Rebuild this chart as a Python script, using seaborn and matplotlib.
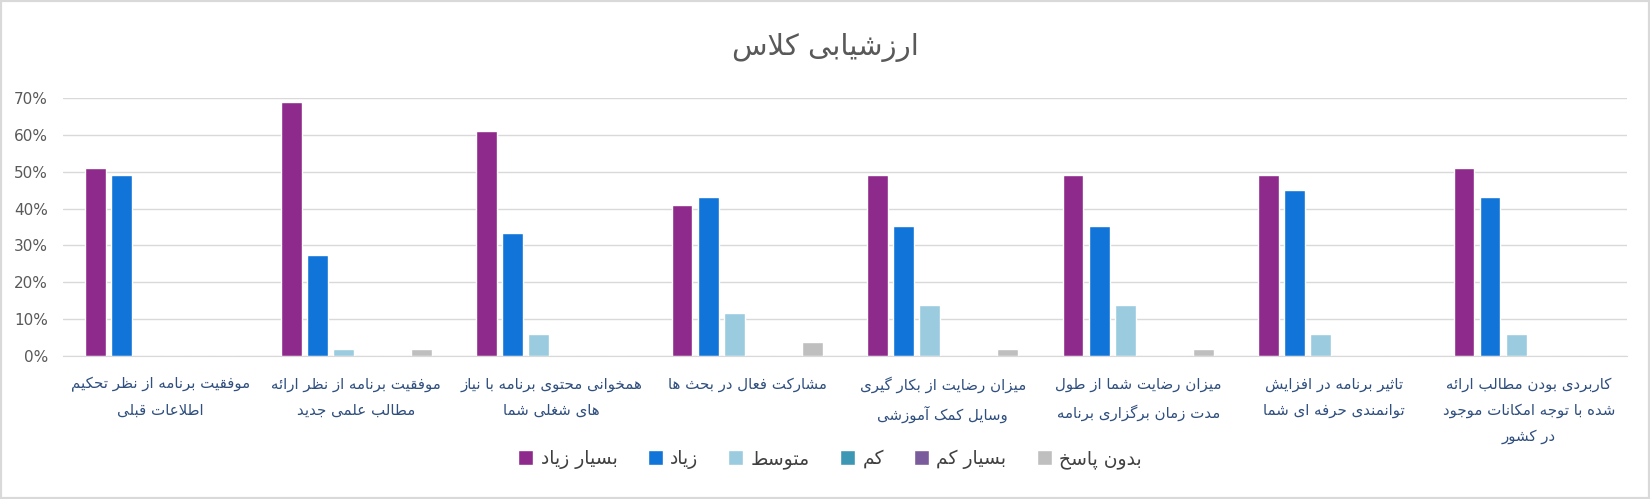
import pandas as pd
import numpy as np
import seaborn as sns
import matplotlib.pyplot as plt
from matplotlib.patches import Rectangle

# data, left to right as it appears in the chart
categories = ['موفقیت برنامه از نظر تحکیم\nاطلاعات قبلی',
              'موفقیت برنامه از نظر ارائه\nمطالب علمی جدید',
              'همخوانی محتوی برنامه با نیاز\nهای شغلی شما',
              'مشارکت فعال در بحث ها',
              'میزان رضایت از بکار گیری\nوسایل کمک آموزشی',
              'میزان رضایت شما از طول\nمدت زمان برگزاری برنامه',
              'تاثیر برنامه در افزایش\nتوانمندی حرفه ای شما',
              'کاربردی بودن مطالب ارائه\nشده با توجه امکانات موجود\nدر کشور']
series = ['بسیار زیاد', 'زیاد', 'متوسط', 'کم', 'بسیار کم', 'بدون پاسخ']
very_high = [51, 69, 61, 41, 49, 49, 49, 51]
high = [49, 27.5, 33.4, 43.2, 35.3, 35.3, 45.1, 43.2]
medium = [0, 2, 6, 11.7, 13.7, 13.7, 6, 6]
low = [0, 0, 0, 0, 0, 0, 0, 0]
very_low = [0, 0, 0, 0, 0, 0, 0, 0]
no_answer = [0, 2, 0, 3.8, 2, 2, 0, 0]
colors = ['#8E2A8B', '#1174D8', '#9BCBDF', '#3C97B4', '#7A5C9C', '#BFBFBF']
title = 'ارزشیابی کلاس'

# --- minimal arabic/persian shaping (matplotlib does no shaping) ---
FORMS = {  # isolated, final, initial, medial
    'ا': (0xFE8D, 0xFE8E), 'ب': (0xFE8F, 0xFE90, 0xFE91, 0xFE92),
    'ت': (0xFE95, 0xFE96, 0xFE97, 0xFE98), 'ث': (0xFE99, 0xFE9A, 0xFE9B, 0xFE9C),
    'ج': (0xFE9D, 0xFE9E, 0xFE9F, 0xFEA0), 'ح': (0xFEA1, 0xFEA2, 0xFEA3, 0xFEA4),
    'خ': (0xFEA5, 0xFEA6, 0xFEA7, 0xFEA8), 'د': (0xFEA9, 0xFEAA),
    'ذ': (0xFEAB, 0xFEAC), 'ر': (0xFEAD, 0xFEAE), 'ز': (0xFEAF, 0xFEB0),
    'س': (0xFEB1, 0xFEB2, 0xFEB3, 0xFEB4), 'ش': (0xFEB5, 0xFEB6, 0xFEB7, 0xFEB8),
    'ص': (0xFEB9, 0xFEBA, 0xFEBB, 0xFEBC), 'ض': (0xFEBD, 0xFEBE, 0xFEBF, 0xFEC0),
    'ط': (0xFEC1, 0xFEC2, 0xFEC3, 0xFEC4), 'ظ': (0xFEC5, 0xFEC6, 0xFEC7, 0xFEC8),
    'ع': (0xFEC9, 0xFECA, 0xFECB, 0xFECC), 'غ': (0xFECD, 0xFECE, 0xFECF, 0xFED0),
    'ف': (0xFED1, 0xFED2, 0xFED3, 0xFED4), 'ق': (0xFED5, 0xFED6, 0xFED7, 0xFED8),
    'ل': (0xFEDD, 0xFEDE, 0xFEDF, 0xFEE0), 'م': (0xFEE1, 0xFEE2, 0xFEE3, 0xFEE4),
    'ن': (0xFEE5, 0xFEE6, 0xFEE7, 0xFEE8), 'ه': (0xFEE9, 0xFEEA, 0xFEEB, 0xFEEC),
    'و': (0xFEED, 0xFEEE), 'ئ': (0xFE89, 0xFE8A, 0xFE8B, 0xFE8C),
    'پ': (0xFB56, 0xFB57, 0xFB58, 0xFB59), 'ژ': (0xFB8A, 0xFB8B),
    'ک': (0xFB8E, 0xFB8F, 0xFB90, 0xFB91), 'گ': (0xFB92, 0xFB93, 0xFB94, 0xFB95),
    'ی': (0xFBFC, 0xFBFD, 0xFBFE, 0xFBFF),
}
LAM_ALEF = (0xFEFB, 0xFEFC)


def shape(line):
    # merge lam + alef into one token
    toks = []
    i = 0
    while i < len(line):
        if line[i] == 'ل' and i + 1 < len(line) and line[i + 1] == 'ا':
            toks.append('لا')
            i += 2
        else:
            toks.append(line[i])
            i += 1

    def joins_next(t):  # can connect to the following letter
        if t == 'لا':
            return False
        return t in FORMS and len(FORMS[t]) == 4

    def joins_prev(t):
        return t == 'لا' or t in FORMS

    out = []
    for k, t in enumerate(toks):
        prev = toks[k - 1] if k > 0 else None
        nxt = toks[k + 1] if k + 1 < len(toks) else None
        a = prev is not None and joins_next(prev) and joins_prev(t)
        b = nxt is not None and joins_next(t) and joins_prev(nxt)
        if t == 'لا':
            out.append(chr(LAM_ALEF[1] if a else LAM_ALEF[0]))
        elif t in FORMS:
            f = FORMS[t]
            if len(f) == 2:
                out.append(chr(f[1] if a else f[0]))
            else:
                out.append(chr(f[3] if (a and b) else f[1] if a else f[2] if b else f[0]))
        else:
            out.append(t)
    return ''.join(out[::-1])


def fa(s):
    return '\n'.join(shape(l) for l in s.split('\n'))


df = pd.DataFrame({
    'cat': np.repeat(categories, len(series)),
    'series': series * len(categories),
    'value': np.array([very_high, high, medium, low, very_low, no_answer]).T.ravel() / 100,
})

sns.set_style('white')
plt.rcParams['font.family'] = ['DejaVu Sans']

fig = plt.figure(figsize=(16.5, 4.99), dpi=100)
ax = fig.add_axes([0.0382, 0.2866, 0.9478, 0.517])

sns.barplot(data=df, x='cat', y='value', hue='series', order=categories,
            hue_order=series, palette=colors, width=0.8, gap=0.2,
            saturation=1, ax=ax)

ax.set_ylim(0, 0.7)
ax.set_yticks(np.arange(0, 0.71, 0.1))
ax.set_yticklabels([f'{int(round(v * 100))}%' for v in np.arange(0, 0.71, 0.1)],
                   fontsize=11, color='#595959')
ax.yaxis.grid(True, color='#D9D9D9', lw=1)
ax.set_axisbelow(True)
for s in ['top', 'right', 'left']:
    ax.spines[s].set_visible(False)
ax.spines['bottom'].set_color('#D9D9D9')
ax.tick_params(axis='y', length=0, pad=11)
ax.tick_params(axis='x', length=0, pad=15)
ax.set_xticks(range(len(categories)))
ax.set_xticklabels([fa(c) for c in categories], fontsize=10.8,
                   color='#2F4F7F', linespacing=1.9, va='top')
ax.set_xlabel('')
ax.set_ylabel('')

handles, labels = ax.get_legend_handles_labels()
ax.get_legend().remove()
fig.legend(handles, [fa(l) for l in labels], loc='center', ncol=6,
           bbox_to_anchor=(0.503, 0.08), frameon=False, fontsize=13.5,
           labelcolor='#404040', handlelength=0.8, handleheight=0.8,
           handletextpad=0.4, columnspacing=1.6)

fig.text(0.5, 0.905, fa(title), ha='center', va='center', fontsize=21,
         color='#595959')
fig.patches.append(Rectangle((0, 0), 1, 1, transform=fig.transFigure,
                             fill=False, ec='#D9D9D9', lw=3))

plt.savefig('out.png', dpi=100)
